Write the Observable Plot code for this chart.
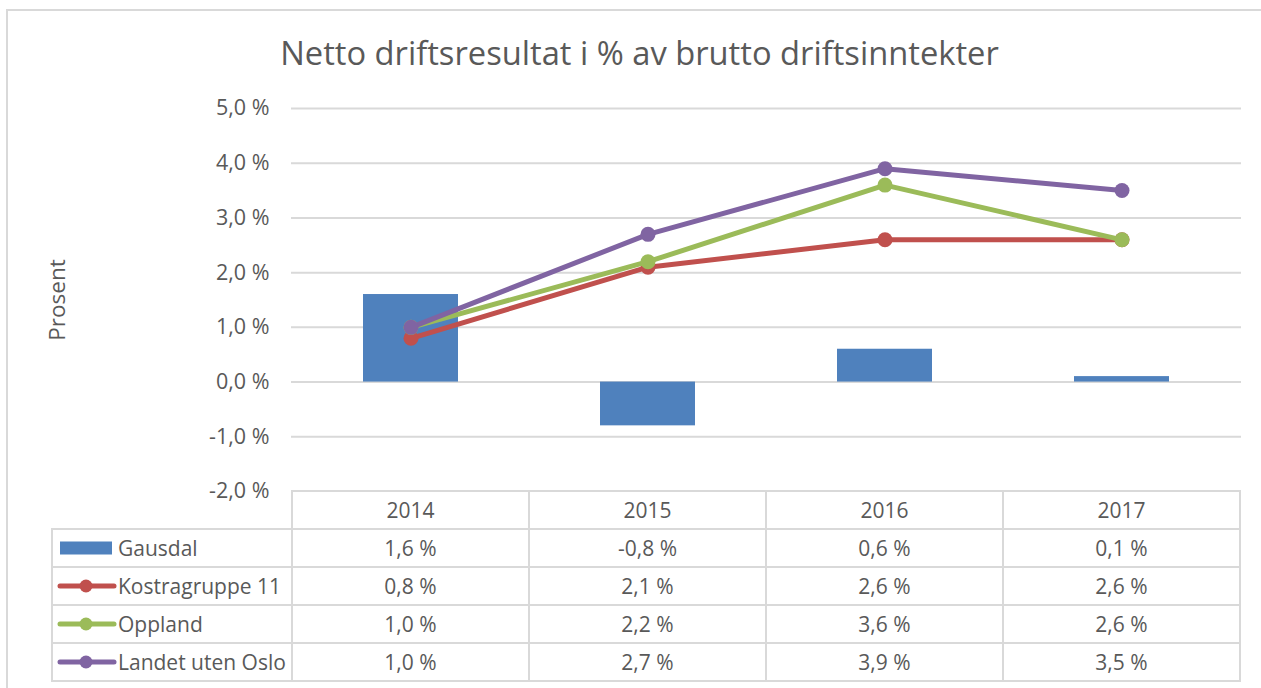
<!DOCTYPE html>
<html>
<head>
<meta charset="utf-8">
<script src="https://cdn.jsdelivr.net/npm/d3@7"></script>
<script src="https://cdn.jsdelivr.net/npm/@observablehq/plot@0.6"></script>
<style>
  html, body { margin: 0; padding: 0; background: #fff; }
  body { width: 1261px; height: 688px; position: relative; overflow: hidden; font-family: "Open Sans", sans-serif; color: #595959; }
  #frame { position: absolute; left: 6px; top: 9px; width: 1300px; height: 720px; border: 2px solid #d9d9d9; box-sizing: border-box; }
  #title { position: absolute; left: 0; top: 36px; width: 1279px; text-align: center; font-size: 32.7px; line-height: 33px; color: #595959; white-space: nowrap; }
  #chart { position: absolute; left: 0; top: 90px; }
  #table { position: absolute; left: 0; top: 0; }
  .hl, .vl { position: absolute; background: #d9d9d9; }
  .cell { position: absolute; display: flex; align-items: center; justify-content: center; font-size: 21px; color: #595959; white-space: nowrap; }
  .lab { justify-content: flex-start; }
</style>
</head>
<body>
<div id="frame"></div>
<div id="title">Netto driftsresultat i % av brutto driftsinntekter</div>
<div id="chart"></div>
<div id="table"></div>
<script>
const years = ["2014", "2015", "2016", "2017"];
const seriesNames = ["Gausdal", "Kostragruppe 11", "Oppland", "Landet uten Oslo"];
const gausdal = [1.6, -0.8, 0.6, 0.1];
const kostragruppe11 = [0.8, 2.1, 2.6, 2.6];
const oppland = [1.0, 2.2, 3.6, 2.6];
const landetUtenOslo = [1.0, 2.7, 3.9, 3.5];
const seriesColors = ["#4f81bd", "#c0504d", "#9bbb59", "#8064a2"];
const yTicks = [-2, -1, 0, 1, 2, 3, 4, 5];

const seriesValues = [gausdal, kostragruppe11, oppland, landetUtenOslo];
const fmt = d => d.toFixed(1).replace(".", ",") + " %";

const barData = years.map((year, i) => ({year, value: gausdal[i]}));
const lineSeries = [1, 2, 3].map(k => years.map((year, i) => ({year, value: seriesValues[k][i], series: seriesNames[k]})));

const lineMarks = [];
lineSeries.forEach((data, j) => {
  const c = seriesColors[j + 1];
  lineMarks.push(Plot.line(data, {x: "year", y: "value", stroke: c, strokeWidth: 5, strokeLinecap: "round", strokeLinejoin: "round"}));
  lineMarks.push(Plot.dot(data, {x: "year", y: "value", fill: c, r: 7.5}));
});

const plot = Plot.plot({
  width: 1261,
  height: 410,
  marginLeft: 291,
  marginRight: 20,
  marginTop: 18,
  marginBottom: 9,
  style: {fontFamily: "Open Sans", color: "#595959", background: "transparent", overflow: "visible"},
  x: {type: "band", domain: years, paddingInner: 0.6, paddingOuter: 0.3, axis: null},
  y: {domain: [-2, 5], axis: null},
  marks: [
    Plot.gridY(yTicks.filter(d => d > -2), {stroke: "#d9d9d9", strokeOpacity: 1, strokeWidth: 2}),
    Plot.axisY(yTicks, {tickSize: 0, tickPadding: 22, fontSize: 21.5, tickFormat: fmt, label: null, fill: "#595959"}),
    Plot.barY(barData, {x: "year", y: "value", fill: seriesColors[0]}),
    ...lineMarks,
    Plot.text(["Prosent"], {text: d => d, frameAnchor: "left", textAnchor: "middle", lineAnchor: "middle", dx: -234, rotate: -90, fontSize: 22.5, fill: "#595959"})
  ]
});
document.getElementById("chart").appendChild(plot);

// Data table aligned to the chart's x scale
const xs = plot.scale("x");
const ys = plot.scale("y");
const svgTop = 90;
const tableTop = svgTop + ys.apply(-2);
const bw = xs.bandwidth;
const centers = years.map(y => xs.apply(y) + bw / 2);
const step = centers[1] - centers[0];
const colEdges = [centers[0] - step / 2, ...centers.map(c => c + step / 2)];
const tableLeft = 52;
const rowH = 38;
const tbl = d3.select("#table");
const lw = 2;

function hline(x1, x2, y) {
  tbl.append("div").attr("class", "hl").style("left", (x1 - lw / 2) + "px").style("top", (y - lw / 2) + "px")
    .style("width", (x2 - x1 + lw) + "px").style("height", lw + "px");
}
function vline(x, y1, y2) {
  tbl.append("div").attr("class", "vl").style("left", (x - lw / 2) + "px").style("top", (y1 - lw / 2) + "px")
    .style("width", lw + "px").style("height", (y2 - y1 + lw) + "px");
}
// header row
hline(colEdges[0], colEdges[4], tableTop);
colEdges.forEach(x => vline(x, tableTop, tableTop + rowH));
years.forEach((y, i) => {
  tbl.append("div").attr("class", "cell")
    .style("left", colEdges[i] + "px").style("top", tableTop + "px")
    .style("width", step + "px").style("height", rowH + "px").text(y);
});
// series rows
for (let r = 0; r < 4; r++) {
  const top = tableTop + rowH * (r + 1);
  hline(tableLeft, colEdges[4], top);
  hline(tableLeft, colEdges[4], top + rowH);
  vline(tableLeft, top, top + rowH);
  colEdges.forEach(x => vline(x, top, top + rowH));
  // label cell with legend key
  const lab = tbl.append("div").attr("class", "cell lab")
    .style("left", (tableLeft + 4) + "px").style("top", top + "px")
    .style("width", (colEdges[0] - tableLeft - 4) + "px").style("height", rowH + "px");
  const key = lab.append("svg").attr("width", 62).attr("height", 20).style("flex", "none");
  if (r === 0) {
    key.append("rect").attr("x", 4).attr("y", 3.5).attr("width", 52).attr("height", 13).attr("fill", seriesColors[0]);
  } else {
    key.append("line").attr("x1", 4).attr("x2", 58).attr("y1", 10).attr("y2", 10)
      .attr("stroke", seriesColors[r]).attr("stroke-width", 5).attr("stroke-linecap", "round");
    key.append("circle").attr("cx", 30).attr("cy", 10).attr("r", 6.5).attr("fill", seriesColors[r]);
  }
  lab.append("span").text(seriesNames[r]);
  seriesValues[r].forEach((v, i) => {
    tbl.append("div").attr("class", "cell")
      .style("left", colEdges[i] + "px").style("top", top + "px")
      .style("width", step + "px").style("height", rowH + "px").text(fmt(v));
  });
}
</script>
</body>
</html>
